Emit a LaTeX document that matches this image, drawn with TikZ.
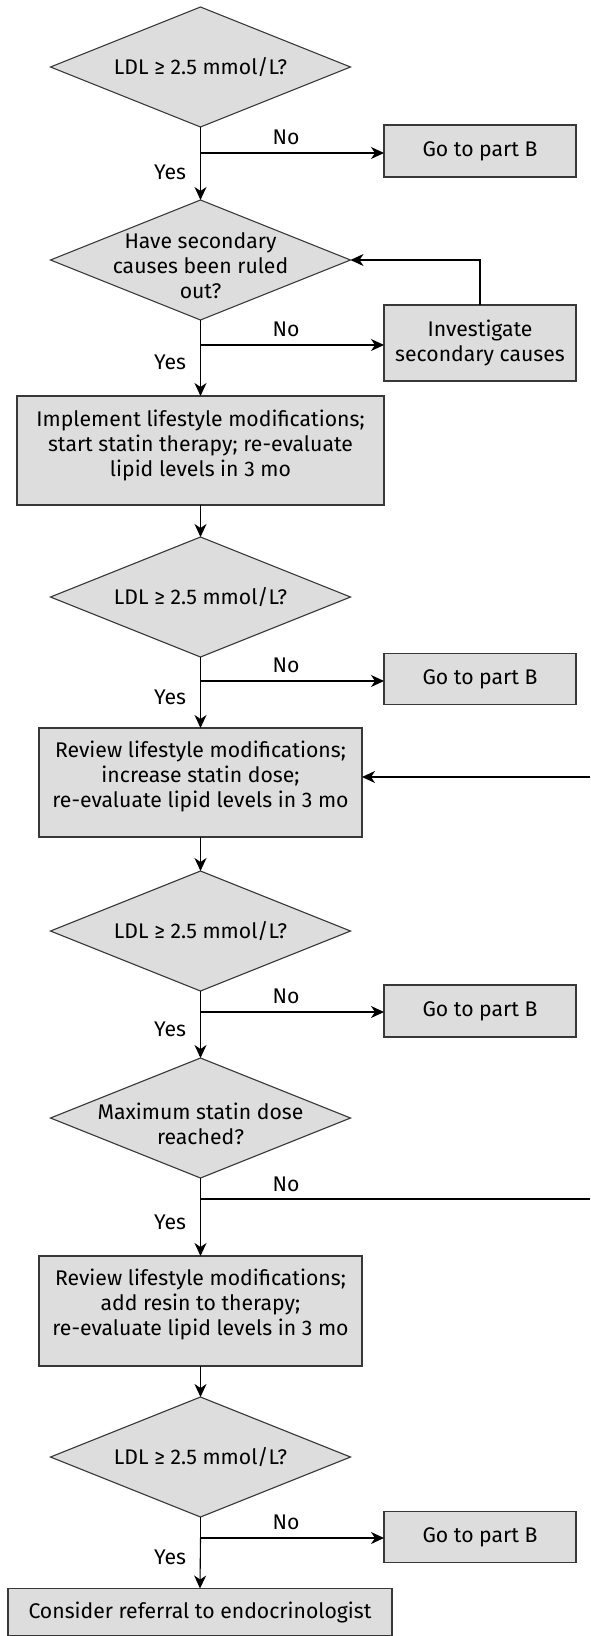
\documentclass[tikz,border=0pt]{standalone}
\usepackage{fontspec}
\setmainfont{Fira Sans}
\usetikzlibrary{shapes.geometric,arrows.meta,calc}
\definecolor{boxfill}{HTML}{DDDDDD}
\definecolor{boxline}{HTML}{383838}
\begin{document}
\begin{tikzpicture}[x=1pt,y=-1pt,
  font=\fontsize{21.2}{25}\selectfont,
  dia/.style={diamond, draw=boxline, fill=boxfill, line width=1.1pt, minimum width=300pt, minimum height=120pt, inner sep=0pt, outer sep=0pt},
  box/.style={rectangle, draw=boxline, fill=boxfill, line width=1.1pt, inner sep=0pt, outer sep=0pt, align=center},
  conn/.style={line width=1.1pt, draw=black},
  arr/.style={conn, -{Stealth[length=13pt,width=12pt,inset=4pt]}},
  lbl/.style={inner sep=0pt},
  dlabel/.style={align=center, inner sep=0pt}]
\useasboundingbox[fill=white] (0,0) rectangle (590,1636);

% diamonds
\node[dia, label={[dlabel]center:LDL ≥ 2.5 mmol/L?}] (d1) at (200.5,67) {};
\node[dia, label={[dlabel,yshift=-6pt]center:Have secondary\\causes been ruled\\out?}] (d2) at (200.5,260) {};
\node[dia, label={[dlabel]center:LDL ≥ 2.5 mmol/L?}] (d3) at (200.5,597) {};
\node[dia, label={[dlabel]center:LDL ≥ 2.5 mmol/L?}] (d4) at (200.5,931) {};
\node[dia, label={[dlabel,yshift=-6pt]center:Maximum statin dose\\reached?}] (d5) at (200.5,1118) {};
\node[dia, label={[dlabel]center:LDL ≥ 2.5 mmol/L?}] (d6) at (200.5,1457) {};

% boxes
\node[box, minimum width=192pt, minimum height=52pt] (b1) at (480,151) {Go to part B};
\node[box, minimum width=192pt, minimum height=76pt] (inv) at (480,343) {Investigate\\secondary causes};
\node[box, minimum width=367pt, minimum height=109pt] (impl) at (200.5,450.5) {Implement lifestyle modifications;\\start statin therapy; re-evaluate\\lipid levels in 3 mo\\[-11pt]};
\node[box, minimum width=192pt, minimum height=51pt] (b2) at (480,679) {Go to part B};
\node[box, minimum width=323pt, minimum height=109pt] (rev1) at (200.5,782.5) {Review lifestyle modifications;\\increase statin dose;\\re-evaluate lipid levels in 3 mo\\[-8pt]};
\node[box, minimum width=192pt, minimum height=52pt] (b3) at (480,1011) {Go to part B};
\node[box, minimum width=323pt, minimum height=110pt] (rev2) at (200.5,1311) {Review lifestyle modifications;\\add resin to therapy;\\re-evaluate lipid levels in 3 mo\\[-8pt]};
\node[box, minimum width=192pt, minimum height=51pt] (b4) at (480,1537) {Go to part B};
\node[box, minimum width=384pt, minimum height=47pt] (cons) at (200,1612) {Consider referral to endocrinologist};

% branch points
\coordinate (br1) at (200.5,153);
\coordinate (br2) at (200.5,345);
\coordinate (br3) at (200.5,681);
\coordinate (br4) at (200.5,1012);
\coordinate (br5) at (200.5,1199);
\coordinate (br6) at (200.5,1538);
\coordinate (rt1) at (590,777);
\coordinate (rt5) at (590,1199);

% connectors
\draw[conn] (d1.south) -- (br1);
\draw[arr] (br1) -- (d2.north);
\draw[arr] (br1) -- (br1 -| b1.west);

\draw[conn] (d2.south) -- (br2);
\draw[arr] (br2) -- (impl.north);
\draw[arr] (br2) -- (br2 -| inv.west);
\draw[arr] (inv.north) |- (d2.east);

\draw[arr] (impl.south) -- (d3.north);
\draw[conn] (d3.south) -- (br3);
\draw[arr] (br3) -- (rev1.north);
\draw[arr] (br3) -- (br3 -| b2.west);

\draw[arr] (rev1.south) -- (d4.north);
\draw[conn] (d4.south) -- (br4);
\draw[arr] (br4) -- (d5.north);
\draw[arr] (br4) -- (br4 -| b3.west);

\draw[conn] (d5.south) -- (br5);
\draw[arr] (br5) -- (rev2.north);
\draw[conn] (br5) -- (rt5);
\draw[arr] (rt1) -- (rt1 -| rev1.east);

\draw[arr] (rev2.south) -- (d6.north);
\draw[conn] (d6.south) -- (br6);
\draw[arr] (br6) -- (cons.north);
\draw[arr] (br6) -- (br6 -| b4.west);

% labels
\node[lbl] (no1) at (286,137) {No};
\node[lbl] (yes1) at (170,172) {Yes};
\node[lbl] (no2) at (286,329) {No};
\node[lbl] (yes2) at (170,362) {Yes};
\node[lbl] (no3) at (286,665) {No};
\node[lbl] (yes3) at (170,697) {Yes};
\node[lbl] (no4) at (286,996) {No};
\node[lbl] (yes4) at (170,1029) {Yes};
\node[lbl] (no5) at (286,1184) {No};
\node[lbl] (yes5) at (170,1222) {Yes};
\node[lbl] (no6) at (286,1522) {No};
\node[lbl] (yes6) at (170,1557) {Yes};
\end{tikzpicture}
\end{document}
